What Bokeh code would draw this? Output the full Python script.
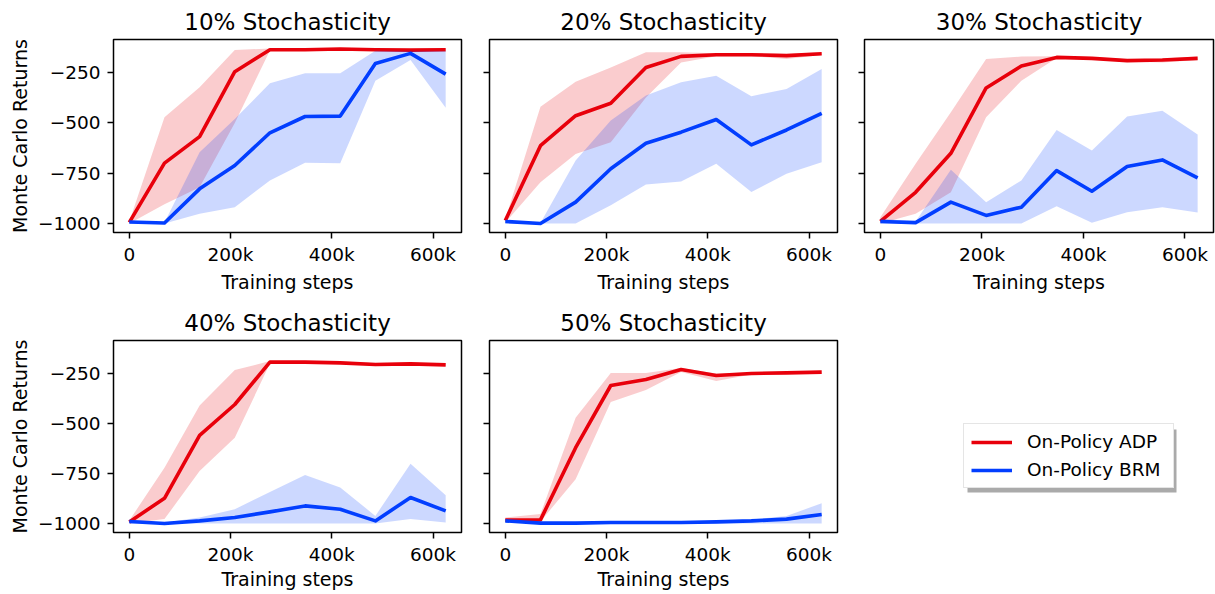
from bokeh.plotting import figure
from bokeh.layouts import column, row
from bokeh.models import (Range1d, FixedTicker, Legend, LegendItem, BoxAnnotation,
                          CustomLabelingPolicy)
from bokeh.embed import file_html
from bokeh.resources import INLINE

# ---------------- data ----------------
steps = [0, 69444, 138889, 208333, 277778, 347222, 416667, 486111, 555556, 625000]

titles = ["10% Stochasticity", "20% Stochasticity", "30% Stochasticity",
          "40% Stochasticity", "50% Stochasticity"]
series_labels = ["On-Policy ADP", "On-Policy BRM"]

x_ticks = [0, 200000, 400000, 600000]
x_tick_labels = ["0", "200k", "400k", "600k"]
y_ticks = [-1000, -750, -500, -250]
y_tick_labels = ["\u22121000", "\u2212750", "\u2212500", "\u2212250"]

# 10%
adp_mean_10 = [-995, -700, -568, -245, -136, -136, -132, -136, -138, -136]
adp_hi_10 = [-990, -472, -323, -137, -130, -130, -128, -130, -132, -130]
adp_lo_10 = [-1000, -905, -820, -500, -140, -140, -136, -140, -142, -140]
brm_mean_10 = [-993, -998, -828, -712, -549, -468, -466, -204, -154, -257]
brm_hi_10 = [-985, -995, -646, -480, -303, -253, -253, -141, -141, -141]
brm_lo_10 = [-1000, -1000, -952, -919, -786, -698, -700, -290, -187, -425]

# 20%
adp_mean_20 = [-985, -613, -464, -402, -224, -169, -161, -161, -165, -156]
adp_hi_20 = [-980, -419, -295, -224, -149, -149, -153, -152, -157, -149]
adp_lo_20 = [-995, -795, -654, -596, -373, -199, -168, -168, -182, -162]
brm_mean_20 = [-990, -1000, -894, -728, -601, -546, -483, -609, -535, -452]
brm_hi_20 = [-985, -998, -687, -488, -364, -298, -265, -367, -331, -232]
brm_lo_20 = [-1000, -1000, -1000, -910, -806, -791, -703, -844, -753, -695]

# 30%
adp_mean_30 = [-990, -845, -651, -326, -217, -174, -179, -190, -187, -179]
adp_hi_30 = [-969, -703, -447, -182, -170, -168, -172, -183, -180, -170]
adp_lo_30 = [-1000, -952, -845, -472, -290, -177, -184, -195, -200, -187]
brm_mean_30 = [-990, -996, -894, -960, -919, -737, -840, -717, -684, -773]
brm_hi_30 = [-975, -990, -733, -894, -786, -535, -637, -468, -439, -558]
brm_lo_30 = [-1000, -1000, -1000, -1000, -1000, -915, -996, -944, -919, -945]

# 40%
adp_mean_40 = [-992, -874, -559, -405, -193, -193, -197, -205, -202, -207]
adp_hi_40 = [-985, -721, -410, -233, -188, -188, -190, -197, -195, -200]
adp_lo_40 = [-1000, -978, -737, -571, -200, -198, -200, -210, -207, -212]
brm_mean_40 = [-990, -1000, -987, -970, -942, -912, -929, -987, -870, -937]
brm_hi_40 = [-980, -995, -970, -929, -842, -757, -820, -962, -701, -859]
brm_lo_40 = [-1000, -1000, -1000, -1000, -1000, -1000, -1000, -1000, -978, -995]

# 50%
adp_mean_50 = [-983, -982, -621, -310, -280, -230, -260, -250, -247, -243]
adp_hi_50 = [-970, -953, -471, -247, -247, -222, -250, -245, -242, -235]
adp_lo_50 = [-990, -990, -779, -393, -333, -243, -288, -255, -252, -250]
brm_mean_50 = [-987, -998, -998, -995, -995, -995, -992, -987, -978, -955]
brm_hi_50 = [-980, -995, -995, -992, -990, -990, -988, -980, -962, -899]
brm_lo_50 = [-995, -1000, -1000, -1000, -1000, -1000, -1000, -1000, -1000, -1000]

RED = "#e8000b"
BLUE = "#023eff"
FONT = "DejaVu Sans"
LW = 3.6


def make_panel(title, adp, brm, width, height, bl, br, bt, bb, ylab, xlab_standoff):
    p = figure(width=width, height=height,
               x_range=Range1d(-31250, 656250), y_range=Range1d(-1045, -85),
               output_backend="svg", toolbar_location=None, title=title,
               min_border_left=bl, min_border_right=br,
               min_border_top=bt, min_border_bottom=bb)
    p.title.align = "center"
    p.title.text_font = FONT
    p.title.text_font_size = "23px"
    p.title.text_font_style = "normal"
    p.title.text_color = "black"
    p.title.standoff = 9
    p.xgrid.visible = False
    p.ygrid.visible = False
    p.outline_line_color = "black"
    p.outline_line_width = 1.5
    p.outline_line_alpha = 1
    p.background_fill_color = "white"
    p.border_fill_color = "white"

    am, alo, ahi = adp
    bm, blo, bhi = brm
    p.varea(x=steps, y1=alo, y2=ahi, fill_color=RED, fill_alpha=0.2)
    p.line(steps, am, line_color=RED, line_width=LW, line_join="round")
    p.varea(x=steps, y1=blo, y2=bhi, fill_color=BLUE, fill_alpha=0.2)
    p.line(steps, bm, line_color=BLUE, line_width=LW, line_join="round")

    for ax in (p.xaxis[0], p.yaxis[0]):
        ax.axis_line_color = None
        ax.major_tick_line_color = "black"
        ax.major_tick_line_width = 1.5
        ax.major_tick_out = 6
        ax.major_tick_in = 0
        ax.minor_tick_line_color = None
        ax.major_label_text_font = FONT
        ax.major_label_text_font_size = "18.5px"
        ax.major_label_text_color = "black"
        ax.axis_label_text_font = FONT
        ax.axis_label_text_font_size = "19px"
        ax.axis_label_text_font_style = "normal"
        ax.axis_label_text_color = "black"

    xa = p.xaxis[0]
    xa.ticker = FixedTicker(ticks=x_ticks)
    xa.major_label_overrides = {t: l for t, l in zip(x_ticks, x_tick_labels)}
    xa.major_label_standoff = 5
    xa.axis_label = "Training steps"
    xa.axis_label_standoff = xlab_standoff

    ya = p.yaxis[0]
    ya.ticker = FixedTicker(ticks=y_ticks)
    if ylab:
        ya.major_label_overrides = {t: l for t, l in zip(y_ticks, y_tick_labels)}
        ya.major_label_standoff = 7
        ya.axis_label = "Monte Carlo Returns"
        ya.axis_label_standoff = 4
    else:
        # shared y axis: tick marks only, no labels
        ya.major_label_overrides = {t: "" for t in y_ticks}
        ya.major_label_policy = CustomLabelingPolicy(code="return []")
        ya.major_label_standoff = 0
    return p


H1, H2 = 297, 297
p1 = make_panel(titles[0], (adp_mean_10, adp_lo_10, adp_hi_10), (brm_mean_10, brm_lo_10, brm_hi_10),
                475, H1, 113, 14, 39, 65, True, 3)
p2 = make_panel(titles[1], (adp_mean_20, adp_lo_20, adp_hi_20), (brm_mean_20, brm_lo_20, brm_hi_20),
                375, H1, 14, 13, 39, 65, False, 3)
p3 = make_panel(titles[2], (adp_mean_30, adp_lo_30, adp_hi_30), (brm_mean_30, brm_lo_30, brm_hi_30),
                365, H1, 14, 2, 39, 65, False, 3)
p4 = make_panel(titles[3], (adp_mean_40, adp_lo_40, adp_hi_40), (brm_mean_40, brm_lo_40, brm_hi_40),
                475, H2, 113, 14, 43, 62, True, 0)
p5 = make_panel(titles[4], (adp_mean_50, adp_lo_50, adp_hi_50), (brm_mean_50, brm_lo_50, brm_hi_50),
                375, H2, 14, 13, 43, 62, False, 0)

# legend panel (same borders as the panel above it, frame measured in pixels)
W6 = 365
FW6, FH6 = W6 - 14 - 2, H2 - 43 - 62
p6 = figure(width=W6, height=H2, x_range=Range1d(0, FW6), y_range=Range1d(0, FH6),
            output_backend="svg", toolbar_location=None,
            x_axis_type=None, y_axis_type=None,
            min_border_left=14, min_border_right=2, min_border_top=43, min_border_bottom=62)
p6.xgrid.visible = False
p6.ygrid.visible = False
p6.outline_line_color = None
# off-screen proxy renderers that only feed the legend
r_adp = p6.line([-100, -90], [-100, -100], line_color=RED, line_width=LW)
r_brm = p6.line([-100, -90], [-100, -100], line_color=BLUE, line_width=LW)

LEG_X, LEG_Y, LEG_W, LEG_H = 99, 44, 209, 63
shadow = BoxAnnotation(left=LEG_X + 4, right=LEG_X + LEG_W + 4,
                       bottom=LEG_Y - 4, top=LEG_Y + LEG_H - 4,
                       fill_color="#aaaaaa", fill_alpha=1.0, line_color=None)
p6.add_layout(shadow)
legend = Legend(items=[LegendItem(label=series_labels[0], renderers=[r_adp]),
                       LegendItem(label=series_labels[1], renderers=[r_brm])],
                location=(LEG_X, LEG_Y), orientation="vertical",
                padding=7, spacing=7, margin=0,
                glyph_width=41, glyph_height=20, label_height=20, label_width=139,
                label_standoff=15,
                label_text_font=FONT, label_text_font_size="18.5px", label_text_color="black",
                border_line_color="#cccccc", border_line_width=1.5,
                background_fill_color="white", background_fill_alpha=1.0)
p6.add_layout(legend)

layout = column(row(p1, p2, p3), row(p4, p5, p6))
open("out.html", "w").write(file_html(layout, INLINE))
